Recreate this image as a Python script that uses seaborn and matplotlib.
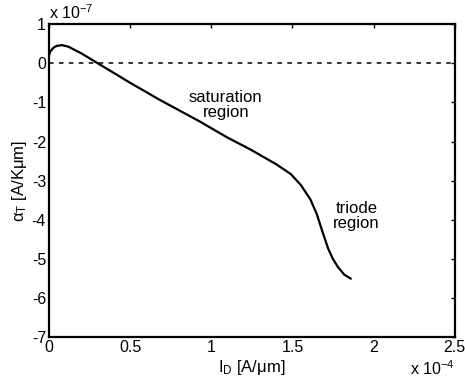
import matplotlib
matplotlib.use("Agg")
import matplotlib.pyplot as plt
import seaborn as sns
import pandas as pd

# Drain current I_D in units of 1e-4 A/um
i_d = [0.0, 0.01, 0.03, 0.05, 0.08, 0.12, 0.2, 0.28, 0.4, 0.5, 0.68, 0.93,
       1.1, 1.24, 1.4, 1.49, 1.55, 1.61, 1.65, 1.685, 1.72, 1.75, 1.78, 1.82, 1.86]
# Temperature coefficient alpha_T in units of 1e-7 A/(K um)
alpha_t = [0.2, 0.3, 0.4, 0.44, 0.46, 0.42, 0.25, 0.05, -0.25, -0.5, -0.93, -1.49,
           -1.9, -2.2, -2.58, -2.83, -3.1, -3.47, -3.85, -4.3, -4.73, -5.0, -5.2, -5.4, -5.5]
x_ticks = [0, 0.5, 1, 1.5, 2, 2.5]
x_tick_labels = ["0", "0.5", "1", "1.5", "2", "2.5"]
y_ticks = [1, 0, -1, -2, -3, -4, -5, -6, -7]
y_tick_labels = ["1", "0", "-1", "-2", "-3", "-4", "-5", "-6", "-7"]

sns.set_theme(style="white")
plt.rcParams['font.family'] = ['Liberation Sans', 'DejaVu Sans']
plt.rcParams['mathtext.fontset'] = 'custom'
plt.rcParams['mathtext.rm'] = 'Liberation Sans'
plt.rcParams['mathtext.it'] = 'Liberation Sans'
plt.rcParams['text.color'] = 'black'
plt.rcParams['axes.labelcolor'] = 'black'

FS = 12

fig = plt.figure(figsize=(4.65, 3.8), dpi=100)
ax = fig.add_axes([0.105, 0.112, 0.873, 0.825])

df = pd.DataFrame({"x": i_d, "y": alpha_t})
sns.lineplot(data=df, x="x", y="y", ax=ax, color="black", linewidth=1.6,
             sort=False, estimator=None)
ax.plot([0, 2.5], [0, 0], color="black", linewidth=1.1, linestyle=(0, (3, 3.5)))

ax.set_xlim(0, 2.5)
ax.set_ylim(-7, 1)
ax.set_xticks(x_ticks)
ax.set_xticklabels(x_tick_labels)
ax.set_yticks(y_ticks)
ax.set_yticklabels(y_tick_labels)
ax.tick_params(direction="in", length=3, width=1, top=True, right=True,
               labelsize=11.5, colors="black", pad=2)
for s in ax.spines.values():
    s.set_linewidth(1.6)
    s.set_color("black")

ax.set_xlabel("I$_\\mathrm{D}$ [A/\u03bcm]", fontsize=FS, color="black", labelpad=2)
ax.set_ylabel("\u03b1$_\\mathrm{T}$ [A/K\u03bcm]", fontsize=FS, color="black", labelpad=2)

ax.text(0.0, 1.005, "x 10$^{-7}$", transform=ax.transAxes, fontsize=11.5,
        ha="left", va="bottom", color="black")
ax.text(1.0, -0.07, "x 10$^{-4}$", transform=ax.transAxes, fontsize=11.5,
        ha="right", va="top", color="black")

ax.text(1.09, -1.07, "saturation\nregion", fontsize=FS, ha="center", va="center",
        linespacing=1.0, color="black")
ax.text(1.895, -3.91, "triode\nregion", fontsize=FS, ha="center", va="center",
        linespacing=1.0, color="black")

fig.savefig("out.png", dpi=100)
